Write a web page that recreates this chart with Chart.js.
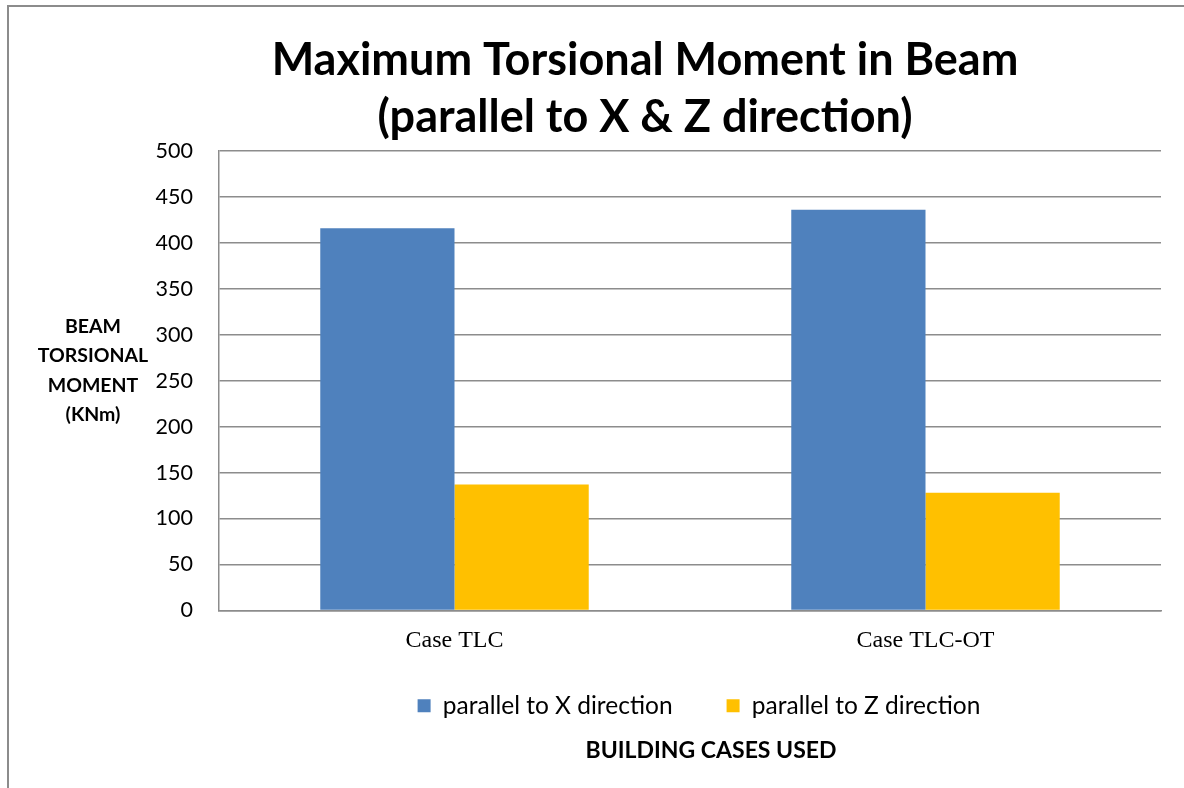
<!DOCTYPE html>
<html>
<head>
<meta charset="utf-8">
<script src="https://cdn.jsdelivr.net/npm/chart.js@4"></script>
<style>
  html, body { margin: 0; padding: 0; background: #fff; overflow: hidden; width: 1184px; height: 788px; }
  #frame { position: absolute; left: 7px; top: 5px; width: 1290px; height: 800px;
           border-left: 2px solid #8c8c8c; border-top: 2px solid #8c8c8c; }
  #wrap { position: absolute; left: 0; top: 0; width: 1272px; height: 781px; }
</style>
</head>
<body>
<div id="frame"><div id="wrap"><canvas id="c"></canvas></div></div>
<script>
const categories = ['Case TLC', 'Case TLC-OT'];
const seriesNames = ['parallel to X direction', 'parallel to Z direction'];
const valuesX = [416, 436];
const valuesZ = [137, 128];
const titleLines = ['Maximum Torsional Moment in Beam', '(parallel to X & Z direction)'];
const yTitleLines = ['BEAM', 'TORSIONAL', 'MOMENT', '(KNm)'];
const xTitle = 'BUILDING CASES USED';

const yTitlePlugin = {
  id: 'yTitle',
  afterDraw(chart) {
    const ctx = chart.ctx;
    const a = chart.chartArea;
    ctx.save();
    ctx.font = 'bold 19.5px Lato';
    ctx.fillStyle = '#000';
    ctx.textAlign = 'center';
    ctx.textBaseline = 'middle';
    const lh = 29.5;
    const cy = (a.top + a.bottom) / 2 - 10;
    const start = cy - lh * (yTitleLines.length - 1) / 2;
    yTitleLines.forEach((t, i) => ctx.fillText(t, 84, start + i * lh));
    ctx.restore();
  }
};

// fine-tune box placement after Chart.js layout
const layoutTweak = {
  id: 'layoutTweak',
  afterLayout(chart) {
    const x = chart.scales.x;
    x.bottom = x.top + 60;           // let category labels overflow the thin axis box
    if (chart.legend) { chart.legend.left += 18; }
    for (const b of chart.boxes) {
      if (b.options && b.options.text === xTitle) { b.left += 42; }
    }
  }
};

new Chart(document.getElementById('c'), {
  type: 'bar',
  data: {
    labels: categories,
    datasets: [
      { label: seriesNames[0], data: valuesX, backgroundColor: '#4F81BD', borderWidth: 0 },
      { label: seriesNames[1], data: valuesZ, backgroundColor: '#FFC000', borderWidth: 0 }
    ]
  },
  options: {
    responsive: true,
    maintainAspectRatio: false,
    animation: false,
    layout: { padding: { left: 120, right: 120, top: 0, bottom: 0 } },
    datasets: { bar: { categoryPercentage: 0.57, barPercentage: 1.0 } },
    scales: {
      x: {
        grid: { display: false, drawTicks: false },
        border: { display: true, color: '#8c8c8c', width: 1.5 },
        ticks: { color: '#000', font: { family: '"Liberation Serif"', size: 24 }, padding: 16 },
        afterFit: (s) => { s.height = 29; }
      },
      y: {
        min: 0, max: 500,
        ticks: { stepSize: 50, color: '#000', font: { family: 'Lato', size: 21.5 }, padding: 26 },
        grid: { color: '#8c8c8c', lineWidth: 1.5, drawTicks: false },
        border: { display: true, color: '#8c8c8c', width: 1.5 },
        afterFit: (s) => { s.width = 90; }
      }
    },
    plugins: {
      title: {
        display: true,
        text: titleLines,
        color: '#000',
        font: { family: 'Lato', size: 45, weight: 'bold', lineHeight: 1.267 },
        padding: { top: 24.5, bottom: 5.5 }
      },
      subtitle: {
        display: true,
        position: 'bottom',
        fullSize: false,
        text: xTitle,
        color: '#000',
        font: { family: 'Lato', size: 23, weight: 'bold', lineHeight: 1.2 },
        padding: { top: 8.5, bottom: 24 }
      },
      legend: {
        position: 'bottom',
        fullSize: false,
        labels: {
          color: '#000',
          font: { family: 'Lato', size: 24.5 },
          boxWidth: 13, boxHeight: 13,
          padding: 54
        }
      },
      tooltip: { enabled: false }
    }
  },
  plugins: [yTitlePlugin, layoutTweak]
});
</script>
</body>
</html>
